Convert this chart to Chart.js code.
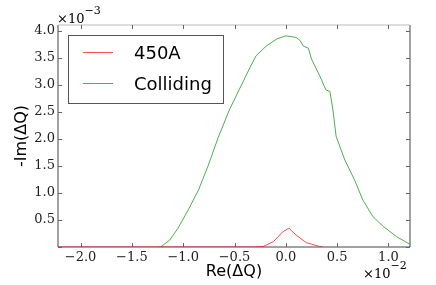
<!DOCTYPE html>
<html>
<head>
<meta charset="utf-8">
<script src="https://cdn.jsdelivr.net/npm/chart.js@4"></script>
<style>
  html, body { margin: 0; padding: 0; background: #fff; }
  #c { display: block; }
</style>
</head>
<body>
<canvas id="c" width="436" height="285"></canvas>
<script>
// Re(dQ) in units of 1e-2, -Im(dQ) in units of 1e-3
const beamLabel = '450A';
const beamX = [-2.22, -1.0, -0.30, -0.22, -0.12, -0.03, 0.03, 0.10, 0.20, 0.33, 0.36];
const beamY = [0, 0, 0, 0.01, 0.10, 0.28, 0.35, 0.22, 0.08, 0.01, 0];

const collidingLabel = 'Colliding';
const collidingX = [-1.24, -1.22, -1.13, -1.05, -0.95, -0.85, -0.76, -0.66, -0.55, -0.45, -0.35, -0.29, -0.19, -0.09, 0.0, 0.10, 0.14, 0.17, 0.22, 0.25, 0.33, 0.39, 0.43, 0.46, 0.49, 0.575, 0.67, 0.75, 0.85, 0.95, 1.08, 1.21];
const collidingY = [0, 0, 0.13, 0.35, 0.69, 1.06, 1.49, 2.02, 2.54, 2.93, 3.32, 3.54, 3.72, 3.85, 3.91, 3.88, 3.82, 3.72, 3.68, 3.48, 3.17, 2.91, 2.88, 2.52, 2.05, 1.61, 1.24, 0.87, 0.56, 0.38, 0.19, 0.05];

const xMin = -2.22, xMax = 1.21;
const yMin = 0, yMax = 4.11;

const serif = '"DejaVu Serif", serif';
const sans = '"DejaVu Sans", sans-serif';

function pts(xs, ys) {
  return xs.map((x, i) => ({ x: x, y: ys[i] }));
}

function fmt(v) {
  if (Math.abs(v) < 1e-9) v = 0;
  return (v < 0 ? '\u2212' : '') + Math.abs(v).toFixed(1);
}

// frame + inward ticks on all four sides, like matplotlib
const framePlugin = {
  id: 'frame',
  beforeDatasetsDraw(chart) {
    const { ctx, chartArea: a, scales } = chart;
    ctx.save();
    ctx.lineWidth = 1;
    ctx.strokeStyle = '#444';
    ctx.beginPath();
    ctx.moveTo(a.left, a.top); ctx.lineTo(a.left, a.bottom);
    ctx.lineTo(a.right, a.bottom); ctx.lineTo(a.right, a.top);
    ctx.stroke();
    ctx.strokeStyle = '#bbb';
    ctx.beginPath();
    ctx.moveTo(a.left, a.top); ctx.lineTo(a.right, a.top);
    ctx.stroke();

    ctx.strokeStyle = '#666';
    ctx.beginPath();
    scales.x.ticks.forEach(t => {
      const px = Math.round(scales.x.getPixelForValue(t.value)) + 0.5;
      ctx.moveTo(px, a.bottom); ctx.lineTo(px, a.bottom - 4);
      ctx.moveTo(px, a.top); ctx.lineTo(px, a.top + 4);
    });
    scales.y.ticks.forEach(t => {
      const py = Math.round(scales.y.getPixelForValue(t.value)) + 0.5;
      ctx.moveTo(a.left, py); ctx.lineTo(a.left + 4, py);
      ctx.moveTo(a.right, py); ctx.lineTo(a.right - 4, py);
    });
    ctx.stroke();
    ctx.restore();
  },
  afterDraw(chart) {
    const { ctx, chartArea: a } = chart;
    ctx.save();
    ctx.fillStyle = '#000';
    ctx.textBaseline = 'alphabetic';
    ctx.textAlign = 'left';
    // offset multipliers
    ctx.font = '13px ' + serif;
    ctx.fillText('\u00d710', a.left - 1, 23);
    let w = ctx.measureText('\u00d710').width;
    ctx.font = '11px ' + serif;
    ctx.fillText('\u22123', a.left - 1 + w, 14);

    ctx.font = '13px ' + serif;
    ctx.fillText('\u00d710', 363, 278);
    w = ctx.measureText('\u00d710').width;
    ctx.font = '11px ' + serif;
    ctx.fillText('\u22122', 363 + w, 269);

    // legend box in upper left
    const ds = chart.data.datasets;
    ctx.fillStyle = '#fff';
    ctx.fillRect(68.5, 35.5, 155, 68);
    ctx.strokeStyle = '#555';
    ctx.lineWidth = 1;
    ctx.strokeRect(68.5, 35.5, 155, 68);
    const rows = [52, 83];
    ds.forEach((d, i) => {
      ctx.strokeStyle = d.borderColor;
      ctx.beginPath();
      ctx.moveTo(83, rows[i] + 0.5);
      ctx.lineTo(113, rows[i] + 0.5);
      ctx.stroke();
      ctx.fillStyle = '#000';
      ctx.font = '18px ' + sans;
      ctx.fillText(d.label, 134, rows[i] + 7);
    });
    ctx.restore();
  }
};

new Chart(document.getElementById('c'), {
  type: 'line',
  data: {
    datasets: [
      {
        label: beamLabel,
        data: pts(beamX, beamY),
        borderColor: 'rgba(255,0,0,0.7)',
        borderWidth: 1,
        pointRadius: 0,
        tension: 0,
        fill: false
      },
      {
        label: collidingLabel,
        data: pts(collidingX, collidingY),
        borderColor: 'rgba(0,140,0,0.7)',
        borderWidth: 1,
        pointRadius: 0,
        tension: 0,
        fill: false
      }
    ]
  },
  options: {
    responsive: false,
    animation: false,
    events: [],
    layout: { padding: { left: 0, top: 25, right: 26, bottom: 0 } },
    plugins: {
      legend: { display: false },
      tooltip: { enabled: false }
    },
    scales: {
      x: {
        type: 'linear',
        min: xMin,
        max: xMax,
        border: { display: false },
        grid: { display: false, drawTicks: false },
        ticks: {
          stepSize: 0.5,
          includeBounds: false,
          autoSkip: false,
          maxRotation: 0,
          padding: 3,
          color: '#222',
          font: { family: serif, size: 13 },
          callback: v => fmt(v)
        },
        title: {
          display: true,
          text: 'Re(\u0394Q)',
          color: '#000',
          font: { family: sans, size: 16 },
          padding: { top: 0, bottom: 4 }
        },
        afterFit: s => { s.height = 38; }
      },
      y: {
        type: 'linear',
        min: yMin,
        max: yMax,
        border: { display: false },
        grid: { display: false, drawTicks: false },
        ticks: {
          stepSize: 0.5,
          includeBounds: false,
          autoSkip: false,
          padding: 3,
          color: '#222',
          font: { family: serif, size: 13 },
          callback: v => (Math.abs(v) < 1e-9 ? '' : fmt(v))
        },
        title: {
          display: true,
          text: '-Im(\u0394Q)',
          color: '#000',
          font: { family: sans, size: 16 },
          padding: { top: 12, bottom: 0 }
        },
        afterFit: s => { s.width = 58; }
      }
    }
  },
  plugins: [framePlugin]
});
</script>
</body>
</html>
